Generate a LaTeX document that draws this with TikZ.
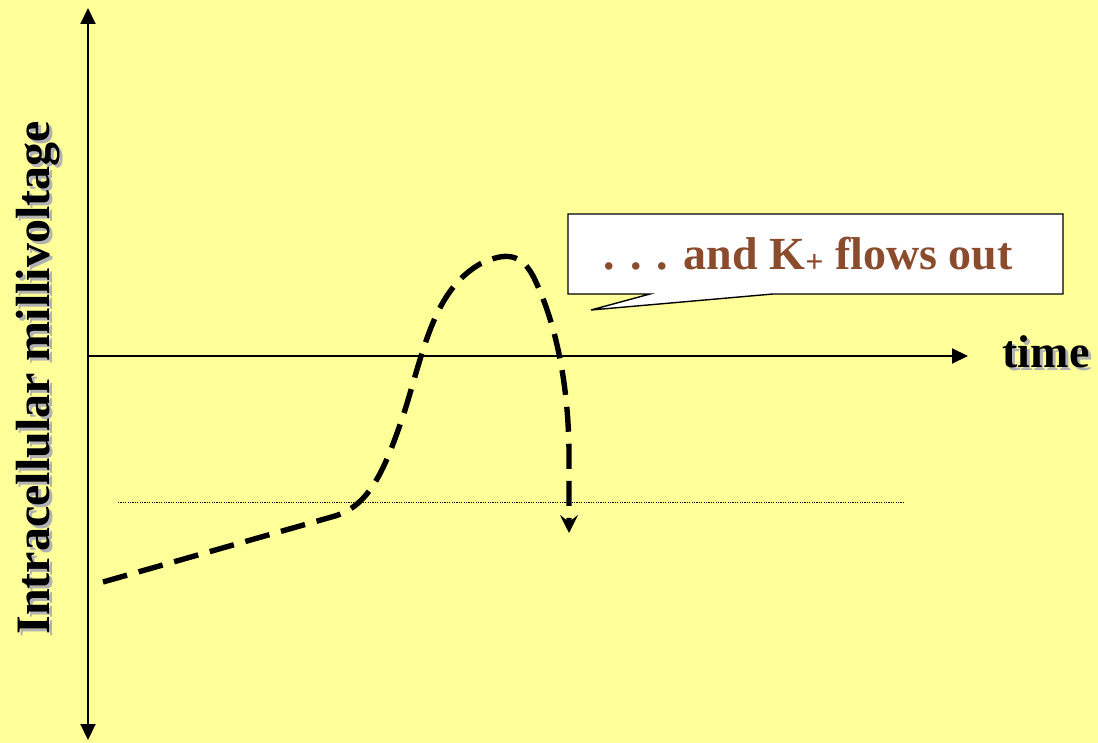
\documentclass[tikz,border=0pt]{standalone}
\usepackage{fontspec}
\setmainfont{Liberation Serif}
\usetikzlibrary{arrows.meta,positioning}
\definecolor{slidebg}{RGB}{255,255,153}
\definecolor{kbrown}{RGB}{139,76,46}

\begin{document}
\begin{tikzpicture}[x=0.5pt,y=-0.5pt,
  >={Triangle[length=8pt,width=7.5pt]},
  axis/.style={line width=1pt},
  lbl/.style={font=\fontsize{23}{26}\selectfont\bfseries},
  shadowed/.style={text=black!30},
  trace/.style={line width=2.7pt,dash pattern=on 12.5pt off 6pt,
                -{Stealth[length=9pt,width=9pt,inset=3.5pt]}}
]
\useasboundingbox[fill=slidebg] (0,0) rectangle (1098,743);

% axes
\coordinate (ytop) at (88,8);
\coordinate (ybot) at (88,740);
\coordinate (orig) at (88,356);
\coordinate (xend) at (968,356);
\draw[axis,<->] (ybot) -- (ytop);
\draw[axis,->] (orig) -- (xend);

\node[lbl,shadowed,rotate=90,font=\fontsize{24}{26}\selectfont\bfseries]
  at (41,381) {Intracellular millivoltage};
\node[lbl,rotate=90,font=\fontsize{24}{26}\selectfont\bfseries]
  (ylab) at (38,378) {Intracellular millivoltage};
\node[lbl,shadowed] at (1049,355) {time};
\node[lbl] (xlab) at (1046,352) {time};

% threshold
\coordinate (thl) at (118,502);
\coordinate (thr) at (903,502);
\draw[line width=0.3pt,dash pattern=on 0.6pt off 0.6pt] (thl) -- (thr);

% membrane potential
\draw[trace] (103,582) -- (335,516)
  .. controls (370,505) and (385,470) .. (405,410)
  .. controls (425,345) and (435,290) .. (480,264)
  .. controls (505,252) and (522,252) .. (535,280)
  .. controls (555,322) and (568,380) .. (569,450) -- (569,533);

% callout
\coordinate (tail) at (591,310);
\filldraw[fill=white,line width=0.7pt] (568,214) -- (1063,214) -- (1063,294)
  -- (773,294) -- (tail) -- (650,294) -- (568,294) -- cycle;
\node[lbl,text=kbrown] (kout) at (808,255)
  {. . . and K{\fontsize{16}{16}\selectfont\raisebox{-1.5pt}{+}} flows out};
\end{tikzpicture}
\end{document}
